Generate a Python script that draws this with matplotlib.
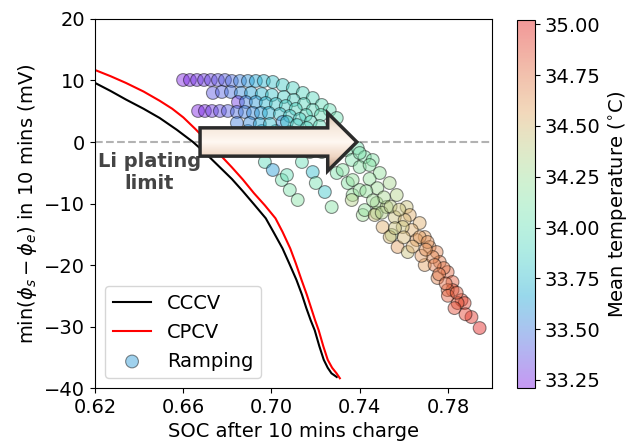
import numpy as np
import matplotlib
matplotlib.use("Agg")
import matplotlib.pyplot as plt
from matplotlib.patches import Polygon
from matplotlib.colors import LinearSegmentedColormap, ListedColormap

# constant current / constant power charging curves
cccv_soc = [0.620, 0.627, 0.634, 0.642, 0.6493, 0.657, 0.6644, 0.670, 0.676, 0.682, 0.687, 0.692, 0.6974,
            0.701, 0.705, 0.708, 0.7113, 0.7138, 0.7158, 0.7178, 0.7196, 0.7217, 0.7237, 0.7255, 0.7272, 0.7296]
cccv_phi = [9.6, 8.3, 6.9, 5.4, 3.9, 2.0, 0.0, -1.8, -3.9, -6.0, -8.0, -10.1, -12.4,
            -14.7, -17.3, -19.7, -22.4, -24.8, -27.0, -29.0, -30.6, -33.2, -35.4, -36.7, -37.6, -38.2]
cpcv_soc = [0.620, 0.627, 0.634, 0.642, 0.6493, 0.655, 0.660, 0.6655, 0.6712, 0.677, 0.682, 0.687, 0.692, 0.697,
            0.7018, 0.705, 0.7085, 0.711, 0.7136, 0.716, 0.718, 0.7198, 0.7214, 0.7235, 0.7255, 0.7275, 0.7295, 0.731]
cpcv_phi = [11.7, 10.7, 9.6, 8.2, 6.7, 5.4, 4.0, 2.1, 0.0, -2.2, -4.1, -6.1, -8.3, -10.3,
            -12.4, -14.6, -17.3, -19.7, -22.4, -24.8, -27.0, -29.0, -30.6, -33.2, -35.4, -36.7, -37.6, -38.4]

# ramping protocols: upper cloud (above the limit)
upper_soc = [0.6893, 0.6956, 0.7020, 0.7083, 0.7147, 0.7210, 0.7273,
             0.6599, 0.6630, 0.6662, 0.6694, 0.6725, 0.6757, 0.6789, 0.6820, 0.6857, 0.6893, 0.6929, 0.6965,
             0.7006, 0.7051, 0.7097, 0.7142, 0.7187, 0.7228, 0.7264, 0.7296,
             0.6734, 0.6775, 0.6816, 0.6861, 0.6907, 0.6956, 0.7002, 0.7056, 0.7101, 0.7147, 0.7187, 0.7224,
             0.6848, 0.6884, 0.6929, 0.6974, 0.7020, 0.7065, 0.7110, 0.7156,
             0.6667, 0.6698, 0.6730, 0.6766, 0.6802, 0.6843, 0.6879, 0.6916, 0.6952, 0.6988, 0.7038, 0.7083,
             0.7128, 0.7178, 0.7219,
             0.6843, 0.6902, 0.6947, 0.6993, 0.7051, 0.7070, 0.7115, 0.7160]
upper_phi = [1.79, 1.79, 1.79, 1.63, 1.30, 0.98, 0.65,
             10.08, 10.08, 10.08, 10.08, 10.08, 10.08, 10.08, 9.92, 9.92, 9.92, 9.92, 9.92,
             9.76, 9.27, 8.78, 7.97, 7.15, 6.02, 5.20, 3.90,
             7.97, 8.13, 8.13, 7.97, 7.97, 7.80, 7.64, 7.32, 6.83, 6.18, 5.20, 4.39,
             6.50, 6.50, 6.50, 6.34, 6.18, 5.85, 5.37, 4.39,
             5.04, 5.04, 5.04, 5.04, 5.04, 4.88, 4.88, 4.72, 4.72, 4.72, 4.55, 4.23,
             3.74, 3.25, 2.60,
             3.09, 3.09, 2.93, 2.93, 3.25, 3.25, 2.76, 2.28]
upper_temp = [33.60, 33.70, 33.78, 33.85, 33.90, 33.97, 34.03,
              33.22, 33.24, 33.27, 33.30, 33.33, 33.36, 33.40, 33.45, 33.52, 33.58, 33.65, 33.72,
              33.78, 33.83, 33.87, 33.90, 33.93, 33.96, 34.00, 34.03,
              33.38, 33.42, 33.47, 33.55, 33.63, 33.72, 33.80, 33.85, 33.88, 33.92, 33.95, 34.00,
              33.30, 33.50, 33.60, 33.72, 33.80, 33.85, 33.90, 33.93,
              33.22, 33.25, 33.30, 33.35, 33.40, 33.45, 33.50, 33.55, 33.62, 33.70, 33.78, 33.82,
              33.88, 33.92, 33.97,
              33.50, 33.55, 33.65, 33.75, 33.55, 33.80, 33.86, 33.90]

# tails just below the limit
tail_soc = [0.6934, 0.6993, 0.7051, 0.7110, 0.7174, 0.7228, 0.7287,
            0.6970, 0.7006, 0.7047, 0.7083, 0.7119, 0.7070,
            0.7138, 0.7187, 0.7201, 0.7242, 0.7273,
            0.7296, 0.7346, 0.7368, 0.7414,
            0.7341, 0.7323, 0.7368, 0.7400, 0.7364, 0.7423, 0.7477, 0.7545]
tail_phi = [-1.30, -1.30, -1.30, -1.30, -1.63, -1.63, -1.79,
            -3.25, -4.55, -6.18, -7.80, -9.43, -5.37,
            -3.25, -4.88, -6.67, -8.13, -10.57,
            -5.04, -6.67, -8.62, -11.87,
            -1.30, -4.55, -6.18, -7.80, -9.43, -11.06, -11.54, -15.12]
tail_temp = [33.90, 33.85, 33.90, 33.95, 34.00, 34.05, 34.08,
             33.95, 33.62, 34.05, 34.10, 34.15, 34.00,
             34.00, 33.75, 34.05, 33.80, 34.15,
             34.10, 34.15, 34.20, 34.25,
             34.10, 34.15, 34.20, 34.20, 34.35, 34.20, 34.25, 34.30]

# main band towards high SOC
band_soc = [0.7391, 0.7423, 0.7459, 0.7364, 0.7400, 0.7400, 0.7445, 0.7491, 0.7536, 0.7568, 0.7613, 0.7627,
            0.7672, 0.7695, 0.7717,
            0.7477, 0.7522, 0.7468, 0.7504, 0.7536, 0.7559, 0.7604, 0.7636, 0.7658, 0.7572, 0.7595, 0.7618, 0.7672,
            0.7708, 0.7749, 0.7763, 0.7799, 0.7821, 0.7821, 0.7862, 0.7876, 0.7907, 0.7944,
            0.7695, 0.7753, 0.7799, 0.7844, 0.7731, 0.7781,
            0.7445, 0.7480, 0.7510, 0.7430, 0.7460, 0.7500, 0.7540, 0.7580, 0.7560, 0.7600,
            0.7640, 0.7680, 0.7700, 0.7740, 0.7760, 0.7790, 0.7800, 0.7840, 0.7830, 0.7880]
band_phi = [-0.98, -2.44, -2.93, -2.93, -4.07, -1.79, -3.74, -5.04, -6.67, -8.62, -10.57, -11.87,
            -13.17, -15.45, -17.07,
            -9.92, -10.57, -11.87, -13.82, -15.45, -12.20, -12.68, -14.31, -15.93, -17.07, -13.82, -17.89, -15.45,
            -16.26, -17.89, -19.51, -21.14, -22.76, -24.07, -25.69, -26.18, -28.46, -30.24,
            -20.00, -22.11, -24.07, -26.18, -18.70, -20.49,
            -6.0, -7.5, -9.0, -8.0, -9.5, -11.5, -10.5, -11.0, -14.0, -15.5,
            -17.0, -18.5, -17.5, -20.0, -21.5, -23.0, -25.0, -24.5, -27.0, -28.0]
band_temp = [34.05, 34.10, 34.12, 34.10, 34.15, 34.10, 34.15, 34.20, 34.30, 34.35, 34.45, 34.55,
             34.55, 34.60, 34.65,
             34.30, 34.35, 34.45, 34.55, 34.50, 34.45, 34.50, 34.55, 34.60, 34.60, 34.45, 34.45, 34.60,
             34.65, 34.70, 34.72, 34.80, 34.82, 34.85, 34.88, 34.90, 34.95, 35.00,
             34.60, 34.70, 34.78, 34.85, 34.68, 34.75,
             34.20, 34.25, 34.30, 34.20, 34.25, 34.35, 34.38, 34.45, 34.45, 34.50,
             34.55, 34.62, 34.65, 34.72, 34.75, 34.78, 34.82, 34.85, 34.88, 34.92]

ramp_soc = np.array(upper_soc + tail_soc + band_soc)
ramp_phi = np.array(upper_phi + tail_phi + band_phi)
ramp_temp = np.array(upper_temp + tail_temp + band_temp)

# slightly muted rainbow, like the washed-out original
base = plt.get_cmap('rainbow')(np.linspace(0, 1, 256))
base[:, :3] = 0.78 * base[:, :3] + 0.22 * 0.5
muted = ListedColormap(base, name='muted_rainbow')

plt.rcParams['font.size'] = 14

fig = plt.figure(figsize=(6.34, 4.41), dpi=100)
ax = fig.add_axes([0.150, 0.120, 0.626, 0.837])
cax = fig.add_axes([0.8155, 0.120, 0.0284, 0.834])

ax.plot(cccv_soc, cccv_phi, color='k', lw=1.5, label='CCCV')
ax.plot(cpcv_soc, cpcv_phi, color='r', lw=1.5, label='CPCV')
sc = ax.scatter(ramp_soc, ramp_phi, c=ramp_temp, cmap=muted, vmin=33.21, vmax=35.02,
                s=85, alpha=0.45, edgecolors='k', linewidths=0.8, label='Ramping', zorder=3)
ax.axhline(0, color='gray', ls='--', lw=1.5, alpha=0.6, zorder=1)

# arrow marking the move past the Li plating limit
tail_x, base_x, tip_x = 0.6676, 0.7255, 0.7387
body_h, head_h = 2.3, 4.7
arrow = Polygon([(tail_x, body_h), (base_x, body_h), (base_x, head_h), (tip_x, 0),
                 (base_x, -head_h), (base_x, -body_h), (tail_x, -body_h)],
                closed=True, facecolor='none', edgecolor='#2b2b2b', lw=2.5, zorder=6)
ax.add_patch(arrow)
shade = LinearSegmentedColormap.from_list('shade', ['#b8927a', '#efd6c4', '#fff8f2', '#f6e8dc', '#d9c2ad'])
grad = np.linspace(0, 1, 100).reshape(-1, 1)
img = ax.imshow(grad, extent=[tail_x, tip_x, -head_h, head_h], origin='lower', aspect='auto',
                cmap=shade, zorder=5)
img.set_clip_path(arrow)

ax.text(0.6445, -5.0, 'Li plating\nlimit', ha='center', va='center', fontsize=14,
        fontweight='bold', color='#444444', linespacing=1.2)

ax.set_xlim(0.62, 0.80)
ax.set_ylim(-40, 20)
ax.set_xticks([0.62, 0.66, 0.70, 0.74, 0.78])
ax.set_yticks(np.arange(-40, 21, 10))
ax.set_xlabel('SOC after 10 mins charge')
ax.set_ylabel(r'min($\phi_s-\phi_e$) in 10 mins (mV)')
ax.legend(loc='lower left')

cb = fig.colorbar(sc, cax=cax)
cb.set_ticks(np.arange(33.25, 35.01, 0.25))
cb.ax.set_yticklabels(['%.2f' % t for t in np.arange(33.25, 35.01, 0.25)])
cb.set_label(r'Mean temperature ($^{\circ}$C)')

fig.savefig('out.png', dpi=100)
